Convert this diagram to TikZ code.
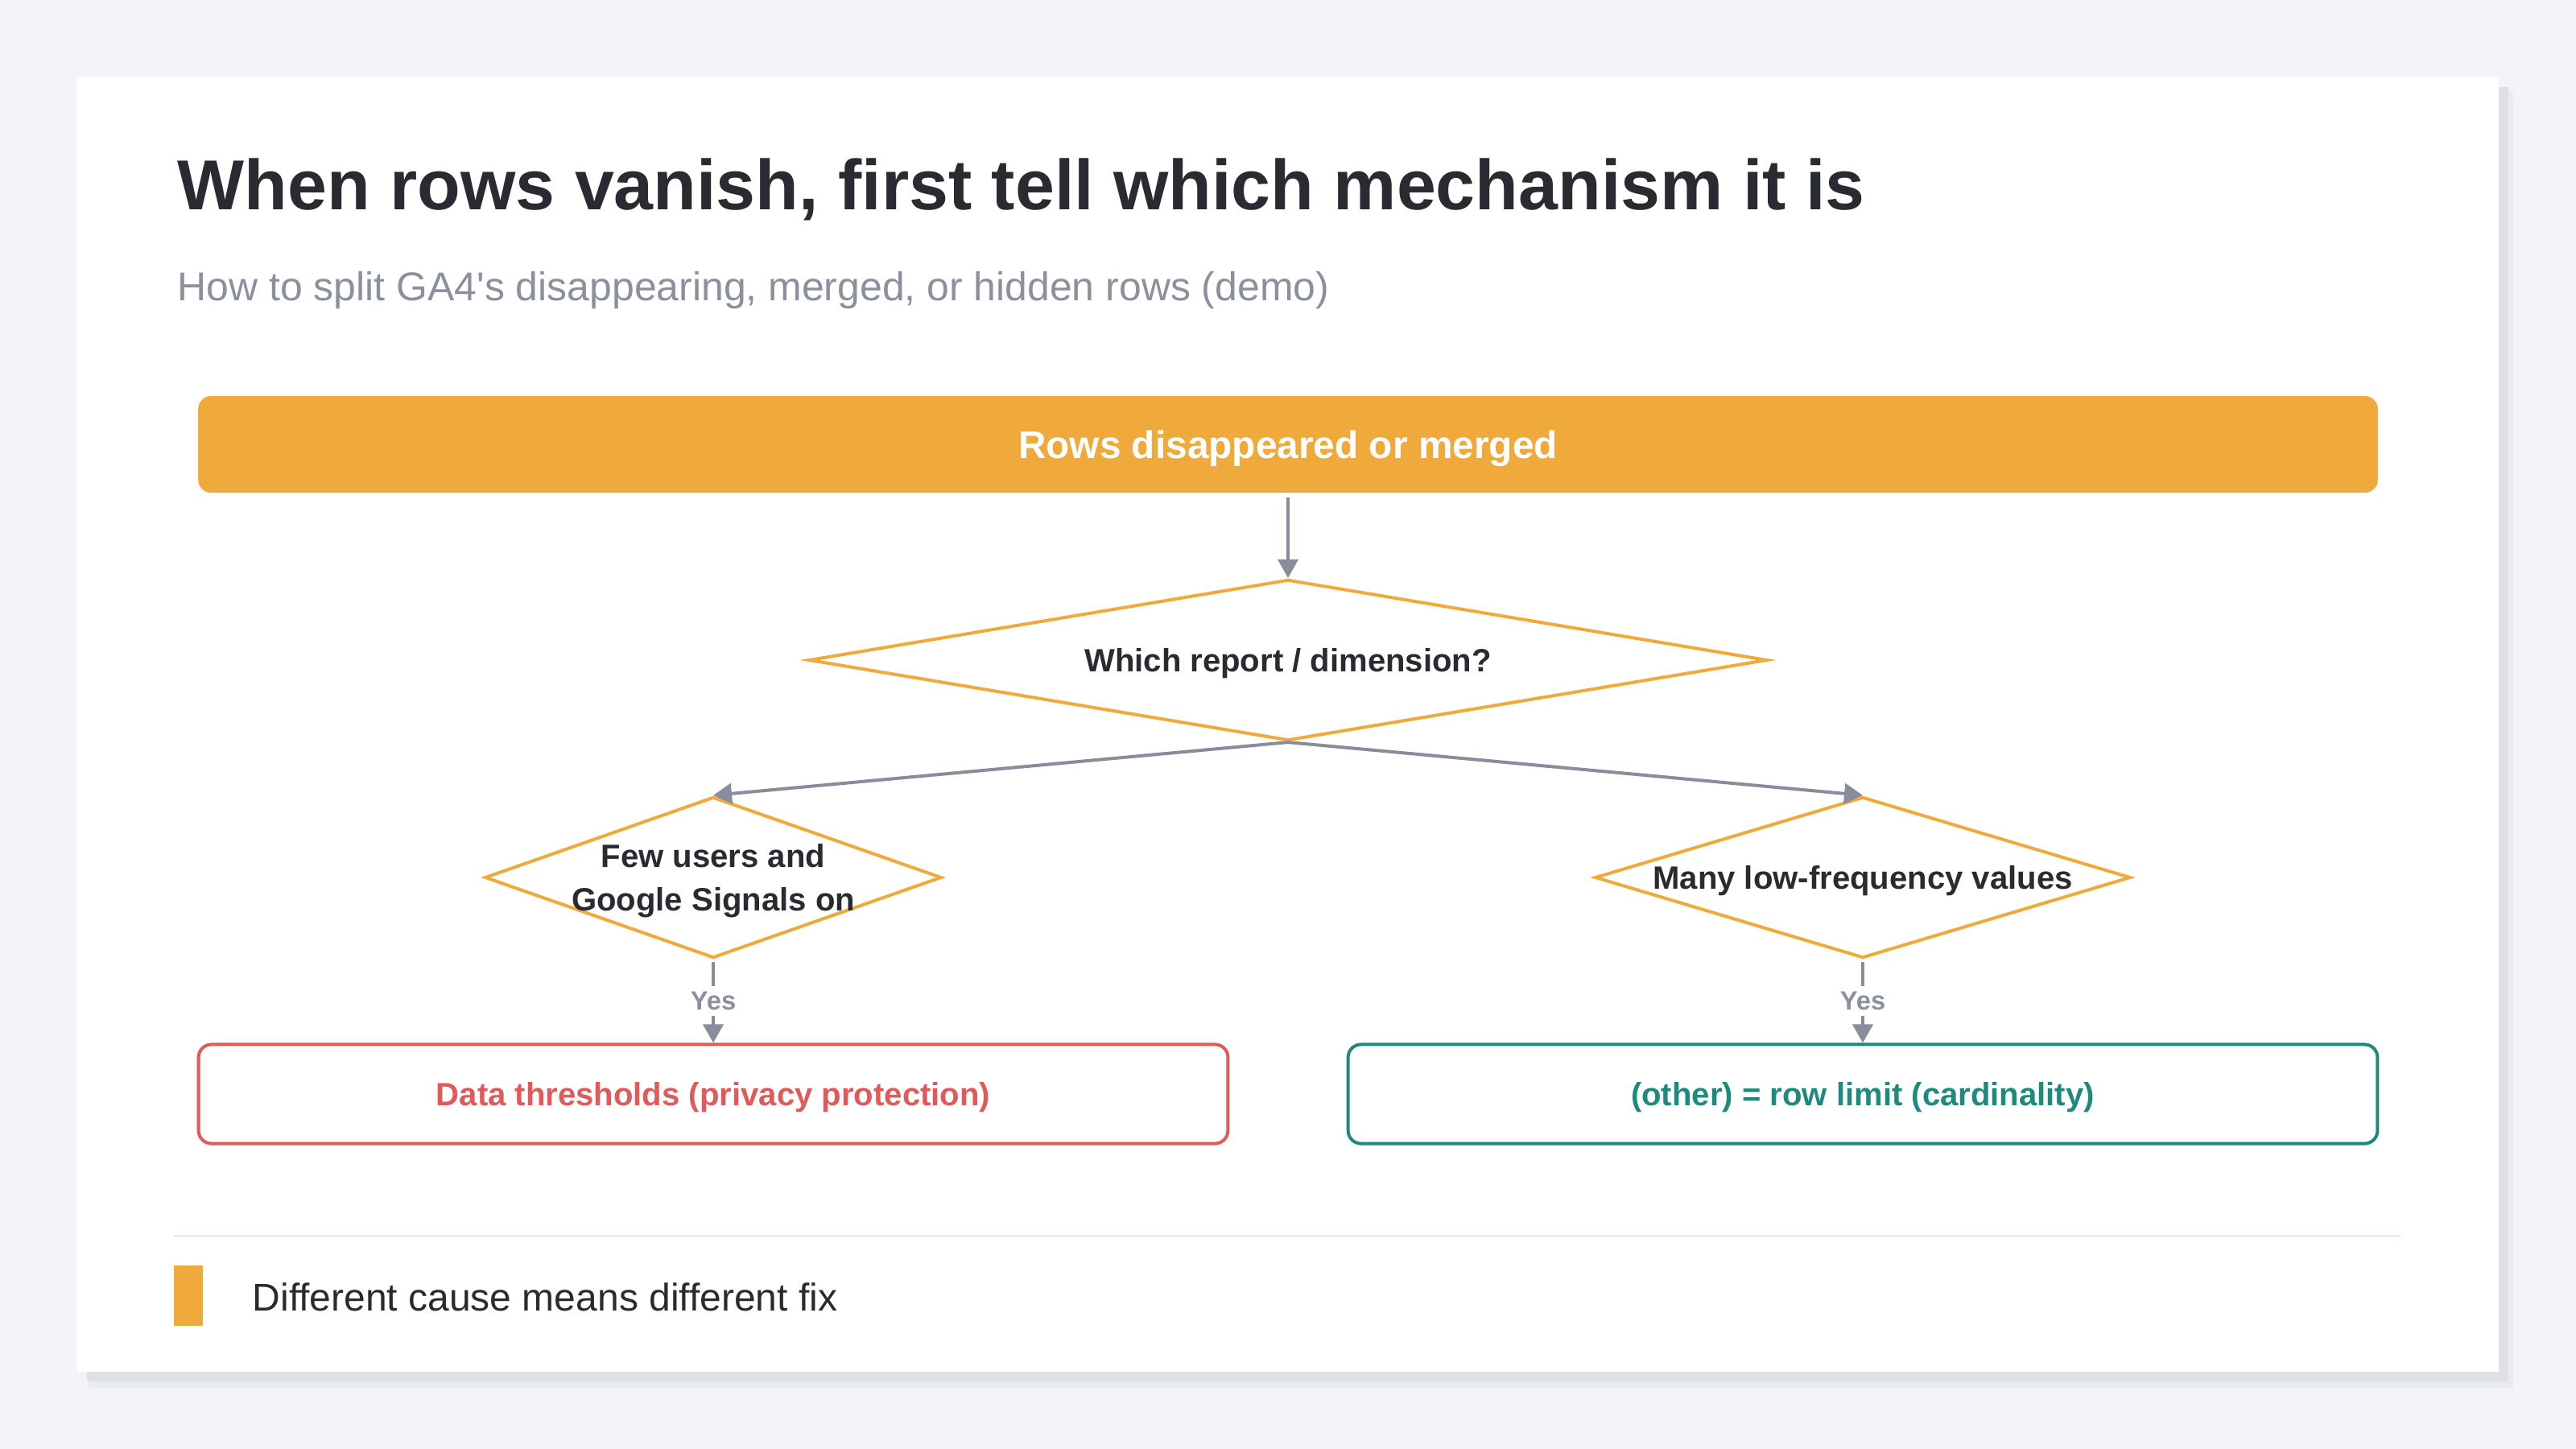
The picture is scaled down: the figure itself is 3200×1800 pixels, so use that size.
\documentclass[tikz,border=0pt]{standalone}
\usepackage{fontspec}
\setmainfont{Liberation Sans}
\usetikzlibrary{shapes.geometric,arrows.meta}

\definecolor{pagebg}{HTML}{F3F4F8}
\definecolor{shadowdark}{HTML}{DDE0E6}
\definecolor{shadowlight}{HTML}{E9EBEF}
\definecolor{accent}{HTML}{F0A93B}
\definecolor{linegray}{HTML}{878D9A}
\definecolor{textdark}{HTML}{2A2B30}
\definecolor{subgray}{HTML}{8A909C}
\definecolor{warnred}{HTML}{E05A5C}
\definecolor{tealok}{HTML}{1E8A7E}
\definecolor{rulegray}{HTML}{E9EAEE}

\begin{document}
\begin{tikzpicture}[x=0.01cm, y=-0.01cm,
  decision/.style={diamond, draw=accent, line width=0.04cm, fill=white, inner sep=0pt,
    aspect=4, minimum height=2cm, text=textdark, text depth=0pt,
    font=\fontsize{11.4}{15.5}\selectfont\bfseries},
  result/.style={rectangle, rounded corners=0.16cm, line width=0.04cm, fill=white,
    minimum width=12.78cm, minimum height=1.23cm, text depth=0pt,
    font=\fontsize{11.4}{14}\selectfont\bfseries},
  flow/.style={-{Triangle[width=0.25cm,length=0.23cm]}, draw=linegray, line width=0.04cm},
  yeslabel/.style={fill=white, text=subgray, inner sep=2pt,
    font=\fontsize{9.3}{11}\selectfont\bfseries},
]

  % page and card
  \useasboundingbox (0,0) rectangle (3200,1800);
  \fill[pagebg] (0,0) rectangle (3200,1800);
  \fill[shadowlight] (110,114) rectangle (3122,1725);
  \fill[shadowdark] (108,108) rectangle (3116,1716);
  \fill[white] (96,96) rectangle (3104,1704);

  % heading
  \node[anchor=base west, inner sep=0pt, text=textdark,
    font=\fontsize{25}{30}\selectfont\bfseries] (title) at (220,261)
    {When rows vanish, first tell which mechanism it is};
  \node[anchor=base west, inner sep=0pt, text=subgray,
    font=\fontsize{14.2}{17}\selectfont] (subtitle) at (220,373)
    {How to split GA4\textquotesingle s disappearing, merged, or hidden rows (demo)};

  % start box
  \node[fill=accent, rounded corners=0.16cm, minimum width=27.06cm, minimum height=1.2cm,
    text=white, text depth=0pt, font=\fontsize{13.6}{16}\selectfont\bfseries] (start) at (1600,552)
    {Rows disappeared or merged};

  % decisions
  \node[decision, minimum width=11.9cm] (which) at (1600,820) {Which report / dimension?};
  \node[decision, minimum width=5.67cm,
    label={[align=center, text=textdark, yshift=-0.04cm,
      font=\fontsize{11.4}{15.5}\selectfont\bfseries]center:{Few users and\\Google Signals on}}]
    (fewusers) at (886,1090) {};
  \node[decision, minimum width=6.65cm] (lowfreq) at (2314,1090) {Many low-frequency values};

  % outcomes
  \node[result, draw=warnred, text=warnred] (thresh) at (886,1359)
    {Data thresholds (privacy protection)};
  \node[result, draw=tealok, text=tealok] (rowlimit) at (2314,1359)
    {(other) = row limit (cardinality)};

  % connectors
  \draw[flow, shorten <=0.05cm] (start) -- (which.north);
  \draw[flow] (which.south) -- (fewusers.north);
  \draw[flow] (which.south) -- (lowfreq.north);
  \draw[flow, shorten <=0.03cm] (fewusers.south) -- node[yeslabel] {Yes} (thresh.north);
  \draw[flow, shorten <=0.03cm] (lowfreq.south) -- node[yeslabel] {Yes} (rowlimit.north);

  % footer
  \draw[rulegray, line width=0.03cm] (216,1535) -- (2982,1535);
  \fill[accent] (216,1572) rectangle (252,1647);
  \node[anchor=base west, inner sep=0pt, text=textdark,
    font=\fontsize{13.65}{16}\selectfont] (keynote) at (313,1628)
    {Different cause means different fix};

\end{tikzpicture}
\end{document}
